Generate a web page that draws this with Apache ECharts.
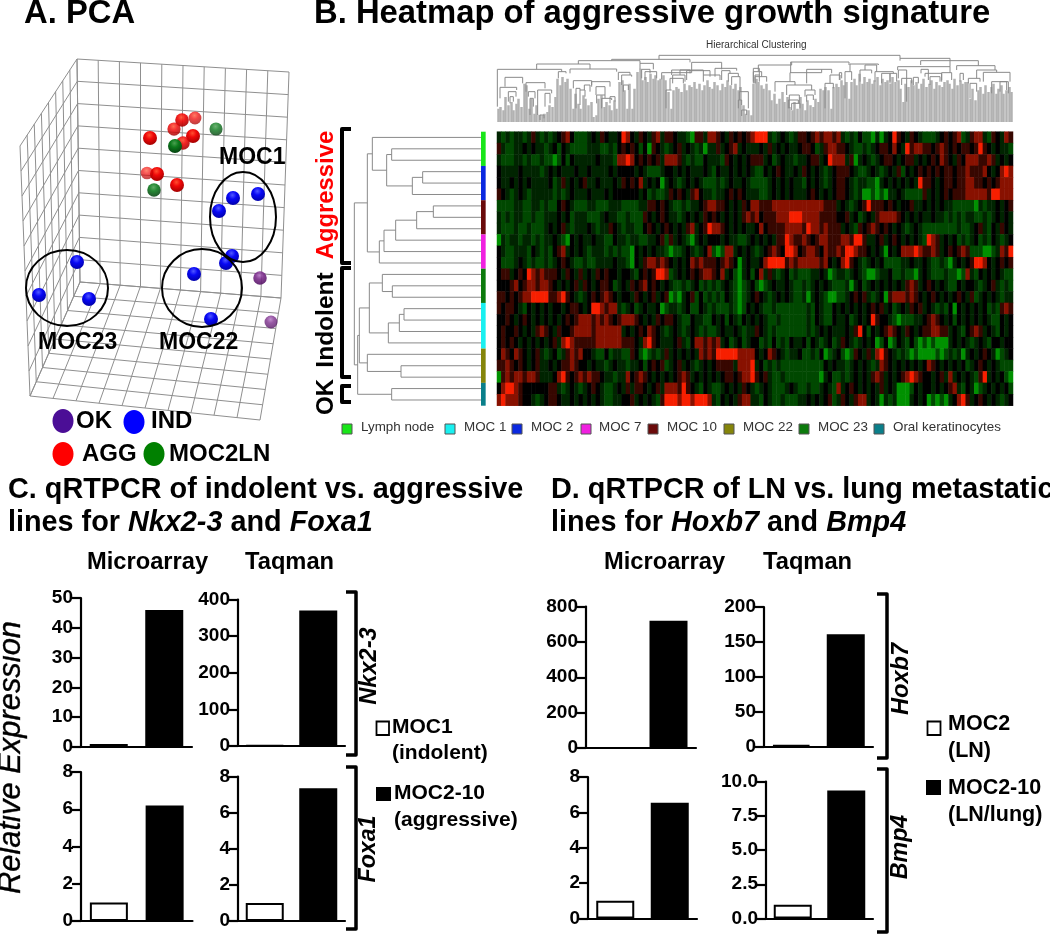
<!DOCTYPE html>
<html><head><meta charset="utf-8">
<style>html,body{margin:0;padding:0;background:#fff}#c{width:1050px;height:934px}</style>
<script src="https://cdn.jsdelivr.net/npm/echarts@6/dist/echarts.min.js"></script></head>
<body><div id="c"></div>
<script>
// ---------- bar values ----------
var microNkx=[1,46], taqNkx=[2,370], microFoxa=[1,6.2], taqFoxa=[1,7.35];
var microHoxb7=[1,720], taqHoxb7=[2,161], microBmp4=[1,6.55], taqBmp4=[1,9.35];
var barCats=['low','high'];
// ---------- PCA scores: [pc1, pc2, depth 0..1] ----------
var pcaAGG=[[182,120,.85],[195,118,.55],[174,129,.7],[150,138,1],[193,136,1],[183,143,.8],[157,174,1],[147,173,.45],[177,185,1]];
var pcaLN=[[216,129,.65],[175,146,1],[154,190,.8]];
var pcaIND=[[233,198,1],[258,194,1],[219,211,1],[232,256,1],[226,263,1],[194,274,1],[211,319,1],[77,262,1],[39,295,1],[89,299,1]];
var pcaOK=[[260,278,.8],[271,322,.6]];
// ---------- heatmap: one string per sample, one letter per gene block ----------
var heatLevels={G:-1.7,g:-.85,d:-.42,'.':0,m:.65,r:1.6,R:2.9};
var heatmapRows=[
"dgdgddgdmd gdgd.mr.gg gd.dm.dd.R r.dm.dmrdm m.ddgGmmdr rm.dm.m.mr RRRdgd.dgd mm.mrmrrmr dgdg.ggGdG d.Rm.dm.dg ggd.m.mrgd mrrdgm.drm",
"mdggdd.d.d dgd.g.dggg gdddggdg.m .m.g.Gm.dg d.md.dgdGd dmd.mrd.dd d.dmd.d.dd .mm.gdmrrm m.dggdgd.m m.r.dRmrrm m.mrm.m.mm .mRm.d.ddg",
"dgggddgdgg dggGg.g.dd ddd.dddgrr Rr.m.m.mdr rrmdgdgg.d ddgm.d.d.m mmd.gd.ddg dd.mmd.Rrr rdmGd.dgd. mm.d.mmd.d .m.rm.dm.r rrmmrmd.d.",
".dddd.dddd gd.d.ddd.d d.dddd.d.. ..d.dgggd. .d.d.ddd.d g.dd.d.d.d gg.d.m.dd. dm.d.dgd.m mm.dggd.dg d.dmg.d.m. m.m.mm.mmr mmmr.d.rRr",
".dd.d.d.dd dd.gdmd.d. mdd.ddd.dm .m.rd.d.Gd .dgd.d.dgg gdgd.dd.dg gggd.d.d.d dg.d.dgd.m m.dgddggGd .d.d.d.dRm m.d.mm.mmr rmm.m.mrrr",
"m.dgd.dgdd dddgdgd.dd d.ddd.d... ...d.gdggd m.m.dmr.dd gdd.m.m.dd dggd.d.d.d dd.m.d.d.m m.dgdGGgGg Gdd.dggggm d.d.m.mmmr rrrrmRRrrr",
"ggggddggdd gdgg.m.dgg gddgggdddg gggddmm.m. dggdgdd.mr rmm.d.dm.r rmmmrrrrrr rrrrrrmmmd .dgd.mRmmm .m.d..mdd. d.d.ddgggg gGdgdd.d.m",
"dgdgddggdg gddd.d.gdd dgggd.ddgg dgggm.d.m. ddgd.d.dm. m.d.d.dmrm r.mmmrrrRR Rrrrrmmmm. .md.gd.dmr rrrm.d.d.d d.ddgdgdgd dggdgd.d.d",
"dgggdggdgg gd.d.mdgdd d.dgddm.dg ddgg.m.d.m .d.dmrd.mR rrm.d.d.dd .r.mmmmrrr rmRrrmrmmm d.dgm.mrm. m.d.dgd.dg gggggggdgg d.mdg.dm.d",
"Gdgddgddgd gdd.dgG.d. dd.ddgg.dd gddggdd.mg md.dgGd.d. ..d.ddggd. d.d.dmmRrm mrm.mrrmmm rrmRRmdd.m d.m.d.d.dg Rrmd.d.gdg d.gdg.dgd.",
".dggdddg.d gdg.mrd.d. dgdddgdgdg gG.d.d.ddg Gggd.dgd.r gGgrrd.d.d gd.mrm.RRr .mrrm.rmmr mRRrmm.d.d G.d.rrrRrm mrmd.m.mrm gggGGgdrmR",
".gggd.dgdg gdgd.m.dgg dggdddd.dd gG.dmrrmrm .d.d.rmrmm m.mrm.Gd.d d.rRRRRmrm rrrrrmr.d. rRm.dgd.d. ggggdd.dd. dggdgGd.d. mRRr.d.m.m",
".mmd.m.Rrm rmmm.dm.dm d.dm.m..d. .dg.m.mRRr gd.d.m.mrr m.rd.gGd.g .rdmdgd.gd gggdd.dGgd dgd.dgGGgd d.ggdggGd. dgggdggGgr dg.d.d.dgg",
"...mr.mrrm rrm.d.d.md m.d.mm.gd. dm.mr.m.d. dggdgd.gdg dgd.dgGgd. gGgd.dd.dg gdgd.d.dgg gdGd.gd.d. d.d.dmrmd. m.d.dgg.d. .dgd.mdgdg",
"mm.m.mrrRR RRmmrRm.dg d.m.mrm.d. .dm.d.md.m GgGd.mg.gd gdg.dgGgd. m.dgd.d.dg gdGd.dgGGg gd.m.mdgd. Gmrrrmrm.d .m.d.d.m.d mgd.d.dgdd",
"m.mm.dg.d. d.d..d.mm. d.RRrmrrdg d.gd.dd.Gg ddgd.gg.dg dgggdgGg.d .dggdggggg ggdg.dgg.d .d.d.d.m.m d.gd.dm.md .dgdg.G.d. d.d.gdgmrm",
"..m.d.m.d. d.d.d.m.mr rrmrmrm.mr rrm.d.dm.m m.dgg.ddgg .d.g.dg.d. d.dggdgggg ggdg.dgg.d d.gd.d.Rm. .dgGgggdd. mrm.d.g.d. d.d.dgg.d.",
".m..m.d.dm rm.dm..mrr rrmrrrrrrd .d.m.rm.dg d.dgd.dgdg gd.dd.dgdd m.dgdggggg ggdgd.d.dd d.dmR.g.d. mrm.dm.d.m mrrmmd.dg. mrmd.dg.d.",
".m.m.d.d.d .d.mdrRrmm mmmrrrrrrm mm.drRm.dd d.mdg.rrmr mrd.gd.gd. .gdg.gdg.d d.g.dgd.gd m.dgd.d.Gg .Gg.dg.gGg GgGGGd.d.d gd.dg..d..",
".rm.rm.d.m dgd.gdmrmr ..dgg.gddg gm.gGgdgdm d.d.d.drmr mRRRRRrrrr .d.rm.dgdd .ggdg.Ggd. gGgm.dmdrR m.dgdgGgGG GGgGgdgdGd .d.m.dGgd.",
"mmrm.m.d.m dd.d.mmrm. .d.ddgd.dd gdd.g.m.mg d.md.dgd.d .mmmmdrrrR d.gdgdgggg gggggg.d.d dgd.d.dgdr m.d.d.d.d. rm.d.d.d.g d.m.d.dggg",
"Gmrmrrmrrm ddd.rRm.mr mrmm.ddgdd r.mrm.d.d. d.mrmd.d.d .d.mm.mrrR m.mdggdggg gggggGd.gg dgd.d.dmrm d.d.mrRrm. .d.mdrd.d. dgmRd.d.gG",
".rRRrm.... ..mmdgd.dg d.m.dggd.d mdmm.d.mdr rrmRm.dg.d ggd.d.dm.d gd.dgggd.d ggdggd.dgr d.m.d.d.dm d.dGGGg.d. .d.d.mrdg. dGgd.d.d.g",
"rRrrrm..dg d.mm.dd.d. d.d.dggdd. .md.d.dgmR RRrRRrRRRr dg.d.dmrrd dg.dggdggg dd.d.d.mgd m.dmrrd.dG dgdGGGd.d. GgGgGd.rRm d.m.d.dgd."];
// ---------- sample groups along the heatmap ----------
var sampleGroups=['Lymph node','MOC 2','MOC 10','MOC 7','MOC 23','MOC 1','MOC 22','Oral keratinocytes'];
var sampleCounts=[3,3,3,3,3,4,3,2];
var legendOrder=['Lymph node','MOC 1','MOC 2','MOC 7','MOC 10','MOC 22','MOC 23','Oral keratinocytes'];
// ---------- sample dendrogram: [height, left, right], integers = sample rows ----------
var sampleTree=[133,[172,[187,0,[230,[245,1,2],[307,[338,3,4],5]]],[208,[222,[257,[320,[370,6,7],8],9],10],11]],
 [143,[148,[178,[217,12,[247,13,14]],[235,[268,[282,15,16],17],18]],[172,19,[273,20,21]]],[245,22,23]]];
// ---------- gene dendrogram: leaf heights, merges [xL,xR,yTop,yL,yR] (left half, right half) ----------
var geneLeafHeights=[40,45,35,75,50,60,35,55,70,45,115,110,40,70,25,50,22,20,25,30,50,45,75,130,110,135,120,130,100,40,85,55,40,80,70,50,60,15,20,
70,80,45,60,50,35,65,40,120,125,95,40,115,40,100,150,160,125,135,120,145,130,140,125,130,140,125,90,40,95,
105,100,90,115,95,110,105,120,100,115,95,110,125,105,100,120,110,95,115,105,125,110,100,115,95,105,50,25,35,20,115,130,120,
110,100,115,95,65,85,55,70,90,60,75,45,35,60,40,75,55,35,65,50,45,70,60,100,95,105,95,40,105,115,105,125,110,120,70,
120,130,110,145,115,135,120,130,115,125,135,110,130,120,125,115,135,120,125,100,60,
115,105,125,110,120,100,115,130,105,115,125,100,120,110,105,120,125,115,100,130,110,125,115,120,120,70,100,65,95,105,85,110,90,105,115,85,100,110,85,95,105,90];
var geneMergesA=[[22,215,88,200,95],[205,228,95,115,100],[45,98,112,140,130],[30,80,142,175,150],[55,78,155,185,170],[60,70,170,190,185],
[108,165,128,155,145],[115,135,155,170,175],[120,130,175,225,200],[143,185,150,225,160],[165,180,160,200,190],[150,162,225,240,235],
[140,300,72,88,87],[240,380,87,100,95],[250,305,122,145,135],[258,270,145,205,150],[270,285,150,195,170],[283,300,135,150,155],
[305,360,125,140,140],[318,345,140,165,165],[320,345,165,190,175],[335,365,175,205,180],[360,375,170,190,185],[385,420,97,120,105],[395,425,105,135,110],[400,415,135,155,150],
[265,450,62,72,70],[450,490,70,88,88],[455,480,88,115,100],[465,500,95,120,115],[365,600,58,62,67],[515,605,98,118,90],
[605,695,67,90,88],[545,640,90,105,105],[570,600,90,105,100],[590,660,92,120,110],[548,585,105,130,125],[540,580,115,150,130],[528,545,150,205,150],
[640,690,105,125,120],[675,740,85,110,92],[695,720,92,120,100],[715,745,100,125,110],[725,750,110,135,155],[748,775,155,180,205],[745,755,180,205,195],[755,770,210,228,225],[790,808,85,130,105],[795,808,105,130,125]];
var geneMergesB=[[-273,450,46,58,55],[25,125,75,95,66],[122,297,66,98,75],[120,215,98,125,88],[170,245,88,130,100],[75,135,125,155,135],[110,185,135,165,150],
[118,148,165,205,190],[115,145,180,205,190],[125,150,190,210,205],[165,195,150,170,165],[170,190,165,185,180],[15,50,110,130,125],[10,35,95,125,110],
[225,250,130,205,145],[240,270,105,130,120],[268,275,98,120,115],[285,305,95,175,120],[300,385,72,95,75],[330,365,90,125,100],[345,380,75,90,95],[375,430,95,125,100],[420,440,100,130,125],[395,420,100,130,125],
[450,600,55,62,80],[512,685,62,75,77],[443,600,80,90,98],[445,470,90,115,185],[455,485,115,135,130],[490,505,112,135,130],[513,535,88,100,120],[525,575,100,110,120],[540,570,110,135,125],[575,605,98,125,120],
[620,735,77,90,90],[680,740,90,115,97],[655,690,115,130,125],[700,780,97,125,125],[725,770,125,160,150],[660,680,130,175,155],[630,640,100,125,120],[750,775,125,155,160]];

var FONT='"Liberation Sans",Arial,sans-serif';
var sideColors={'Lymph node':'#19e619','MOC 1':'#19f0f0','MOC 2':'#0a28e0','MOC 7':'#f020e0','MOC 10':'#6a0a0a','MOC 22':'#85850a','MOC 23':'#0c7a0c','Oral keratinocytes':'#0a7f8a'};

var grids=[],xAxes=[],yAxes=[],series=[];
function hiddenVal(min,max,inv,g){return {type:'value',gridIndex:g,min:min,max:max,inverse:!!inv,show:false,splitLine:{show:false}};}
function addGrid(l,t,w,h){grids.push({left:l,top:t,width:w,height:h,containLabel:false});return grids.length-1;}

// ---- PCA grid
var gPCA=addGrid(0,0,340,440);
xAxes.push(hiddenVal(0,340,false,gPCA));yAxes.push(hiddenVal(0,440,true,gPCA));
function wall(a,b,c,d,nu,nv){var out=[];function mix(p,q,t){return [p[0]+(q[0]-p[0])*t,p[1]+(q[1]-p[1])*t];}
 for(var i=0;i<=nu;i++){var t=i/nu;out.push({coords:[mix(a,b,t),mix(d,c,t)]});}
 for(var j=0;j<=nv;j++){var s=j/nv;out.push({coords:[mix(a,d,s),mix(b,c,s)]});}return out;}
var wire=[].concat(
 wall([77,59],[289,72],[281,298],[80,282],10,10),
 wall([20,146],[77,59],[80,282],[30,396],8,10),
 wall([80,282],[281,298],[260,420],[30,396],10,8));
series.push({type:'lines',coordinateSystem:'cartesian2d',xAxisIndex:gPCA,yAxisIndex:gPCA,silent:true,data:wire,lineStyle:{color:'#8f8f8f',width:1,opacity:1},z:1});
function sphere(mid,lite,dark){return {type:'radial',x:.46,y:.3,r:.72,colorStops:[{offset:0,color:lite},{offset:.4,color:mid},{offset:1,color:dark}]};}
function pca(name,data,mid,lite,dark){series.push({type:'scatter',name:name,xAxisIndex:gPCA,yAxisIndex:gPCA,silent:true,z:3,
 symbolSize:function(v){return 11.5+2.5*v[2];},
 itemStyle:{color:sphere(mid,lite,dark),opacity:1},
 data:data.map(function(v){return {value:v,itemStyle:{opacity:.45+.55*v[2]}};})});}
pca('AGG',pcaAGG,'#f00808','#ff5030','#a00000');
pca('MOC2LN',pcaLN,'#0c7a1c','#4aa050','#064010');
pca('IND',pcaIND,'#0808f5','#5058ff','#0000a8');
pca('OK',pcaOK,'#7a2a8a','#b070c0','#501060');
// cluster rings
var rings=[[243,217,33,45,'MOC1'],[202,288,40,39,'MOC22'],[67,288,41,38,'MOC23']];
series.push({type:'custom',xAxisIndex:gPCA,yAxisIndex:gPCA,silent:true,z:4,data:rings,
 renderItem:function(p,api){var c=api.coord([api.value(0),api.value(1)]);
  return {type:'ellipse',shape:{cx:c[0],cy:c[1],rx:api.value(2),ry:api.value(3)},style:{fill:null,stroke:'#000',lineWidth:2}};}});

// ---- gene dendrogram
var gTop=addGrid(497,52,516,70);
xAxes.push(hiddenVal(0,1548,false,gTop));yAxes.push(hiddenVal(0,210,false,gTop));
var stems=geneLeafHeights.map(function(h,i){return {coords:[[i*7.74+3,0],[i*7.74+3,h]]};});
series.push({type:'lines',coordinateSystem:'cartesian2d',xAxisIndex:gTop,yAxisIndex:gTop,silent:true,data:stems,lineStyle:{color:'#b2b2b2',width:2.5,opacity:1}});
var mergeLines=[];
geneMergesA.forEach(function(m){var o=-21;mergeLines.push({coords:[[m[0]+o,246-m[3]],[m[0]+o,246-m[2]],[m[1]+o,246-m[2]],[m[1]+o,246-m[4]]]});});
geneMergesB.forEach(function(m){var o=759;mergeLines.push({coords:[[m[0]+o,246-m[3]],[m[0]+o,246-m[2]],[m[1]+o,246-m[2]],[m[1]+o,246-m[4]]]});});
series.push({type:'lines',polyline:true,coordinateSystem:'cartesian2d',xAxisIndex:gTop,yAxisIndex:gTop,silent:true,data:mergeLines,lineStyle:{color:'#8a8a8a',width:1,opacity:1}});

// ---- sample dendrogram + side bar
var gLeft=addGrid(354,131.7,132,274);
xAxes.push(hiddenVal(132,528,false,gLeft));yAxes.push(hiddenVal(0,24,true,gLeft));
var treeSegs=[];
function walk(n){ if(typeof n==='number') return {x:513,y:n+.5};
 var a=walk(n[1]),b=walk(n[2]),h=n[0];
 treeSegs.push({coords:[[a.x,a.y],[h,a.y],[h,b.y],[b.x,b.y]]});
 return {x:h,y:(a.y+b.y)/2};}
walk(sampleTree);
series.push({type:'lines',polyline:true,coordinateSystem:'cartesian2d',xAxisIndex:gLeft,yAxisIndex:gLeft,silent:true,data:treeSegs,lineStyle:{color:'#8a8a8a',width:1,opacity:1}});
var sideData=[],acc=0;sampleGroups.forEach(function(g,i){sideData.push([acc,acc+sampleCounts[i],i]);acc+=sampleCounts[i];});
series.push({type:'custom',xAxisIndex:gLeft,yAxisIndex:gLeft,silent:true,data:sideData,
 renderItem:function(p,api){var a=api.coord([513,api.value(0)]),b=api.coord([527,api.value(1)]);
  return {type:'rect',shape:{x:a[0],y:a[1],width:b[0]-a[0],height:b[1]-a[1]},style:{fill:sideColors[sampleGroups[api.value(2)]]}};}});

// ---- heatmap
var gHeat=addGrid(497,131.7,516,274);
var heatData=[],nCols=0;
heatmapRows.forEach(function(s,r){var c=0;s.split(' ').forEach(function(block){
  var b=(block+'..........').slice(0,10);
  b.split('').forEach(function(ch){heatData.push([c++,r,heatLevels[ch]]);});});nCols=c;});
var cols=[];for(var ci=0;ci<nCols;ci++)cols.push(ci);
xAxes.push({type:'category',gridIndex:gHeat,data:cols,show:false,splitLine:{show:false}});
yAxes.push({type:'category',gridIndex:gHeat,data:heatmapRows.map(function(_,i){return i;}),inverse:true,show:false,splitLine:{show:false}});
var heatSeriesIndex=series.length;
series.push({type:'heatmap',xAxisIndex:gHeat,yAxisIndex:gHeat,data:heatData,silent:true,progressive:0,emphasis:{disabled:true}});

// ---- bars
var barLabelFont={color:'#000',fontFamily:FONT,fontWeight:'bold',fontSize:19,margin:8};
function barPanel(l,t,r,b,top,iv,vals,fmt){
 var g=addGrid(l,t,r-l,b-t);
 xAxes.push({type:'category',gridIndex:g,data:barCats,axisLabel:{show:false},axisLine:{lineStyle:{color:'#000',width:2.2}},axisTick:{alignWithLabel:true,length:7,lineStyle:{color:'#000',width:2.2}},splitLine:{show:false}});
 yAxes.push({type:'value',gridIndex:g,min:0,max:top,interval:iv,axisLine:{show:true,lineStyle:{color:'#000',width:2.2}},axisTick:{show:true,length:9,lineStyle:{color:'#000',width:2.2}},axisLabel:Object.assign({formatter:fmt||'{value}'},barLabelFont),splitLine:{show:false}});
 series.push({type:'bar',xAxisIndex:g,yAxisIndex:g,data:vals,barWidth:38,silent:true,z:1,
  itemStyle:{borderColor:'#000',borderWidth:2,color:function(p){return p.dataIndex===0?'#fff':'#000';}}});
}
barPanel(81,598,192,747,50,10,microNkx);
barPanel(238,599.5,345,746,400,100,taqNkx);
barPanel(81,772,192.5,921,8,2,microFoxa);
barPanel(238,776.5,345,921,8,2,taqFoxa);
barPanel(586,606.5,696,748,800,200,microHoxb7);
barPanel(764,607,873,746.5,200,50,taqHoxb7);
barPanel(588,777,697,918.5,8,2,microBmp4);
barPanel(766,781.5,873,918.5,10,2.5,taqBmp4,function(v){return v.toFixed(1);});

// ---- texts, legends, brackets
var g=[];
function txt(t,x,y,size,o){o=o||{};g.push({type:'text',x:x,y:y,rotation:o.rot||0,silent:true,z:10,style:{text:t,fontFamily:FONT,fontSize:size,fontWeight:o.w||'bold',fontStyle:o.i?'italic':'normal',fill:o.c||'#000',align:o.a||'left',verticalAlign:'middle',rich:o.rich,stroke:o.s?'#000':null,lineWidth:o.s||0}});}
function rect(x,y,w,h,fill,stroke,lw){g.push({type:'rect',silent:true,z:10,shape:{x:x,y:y,width:w,height:h},style:{fill:fill,stroke:stroke||null,lineWidth:stroke?(lw||1):0}});}
function dot(x,y,rx,ry,fill){g.push({type:'ellipse',silent:true,z:10,shape:{cx:x,cy:y,rx:rx,ry:ry},style:{fill:fill}});}
function brk(x0,x1,y0,y1,w){g.push({type:'polyline',silent:true,z:10,shape:{points:[[x0,y0],[x1,y0],[x1,y1],[x0,y1]]},style:{stroke:'#000',lineWidth:w,fill:null,lineJoin:'round'}});}
var TF=28.8;
var ital={i:{fontStyle:'italic',fontWeight:'bold',fontFamily:FONT,fontSize:TF,fill:'#000'},b:{fontWeight:'bold',fontFamily:FONT,fontSize:TF,fill:'#000'}};

txt('A. PCA',24,14,32.8);
txt('B. Heatmap of aggressive growth signature',314,14,32.8);
txt('Hierarchical Clustering',706,45,10,{w:'normal',c:'#333'});
txt('MOC1',219,158,23);txt('MOC23',38,343,23);txt('MOC22',159,343,23);
dot(63,421,10.5,12,'#4b0e96');txt('OK',76,421,24);dot(134,422,10.5,12,'#0000ff');txt('IND',151,421,24);
dot(63,454,10.5,12,'#ff0000');txt('AGG',82,454,24);dot(154,454,10.5,12,'#008000');txt('MOC2LN',169,454,24);
txt('Aggressive',326,195,23.8,{rot:Math.PI/2,a:'center',c:'#ff0000'});
txt('Indolent',326,320,24.5,{rot:Math.PI/2,a:'center'});
txt('OK',326,397,24,{rot:Math.PI/2,a:'center'});
brk(351,342,129,263,4);brk(351,342,268,377,4);brk(351,342,386,402,4);
var legX=[[342,361],[445,464],[512,531],[581,599],[648,667],[724,743],[799,818],[874,893]];
legendOrder.forEach(function(n,i){rect(legX[i][0],424,10,10,sideColors[n],'#555');txt(n,legX[i][1],427,13.4,{w:'normal',c:'#333'});});

txt('C. qRTPCR of indolent vs. aggressive',8,490,TF);
txt('{b|lines for }{i|Nkx2-3}{b| and }{i|Foxa1}',8,523,TF,{rich:ital});
txt('Microarray',87,562,23.7);txt('Taqman',245,562,23.7);
txt('D. qRTPCR of LN vs. lung metastatic',551,490,TF);
txt('{b|lines for }{i|Hoxb7}{b| and }{i|Bmp4}',551,523,TF,{rich:ital});
txt('Microarray',604,562,23.7);txt('Taqman',763,562,23.7);
txt('Relative Expression',11,757.5,30.9,{rot:Math.PI/2,a:'center',w:'normal',i:true,s:.35});
txt('Nkx2-3',369,666,23.6,{rot:Math.PI/2,a:'center',i:true});
txt('Foxa1',369,849,23.2,{rot:Math.PI/2,a:'center',i:true});
txt('Hoxb7',901,679,23.6,{rot:Math.PI/2,a:'center',i:true});
txt('Bmp4',901,847,23.2,{rot:Math.PI/2,a:'center',i:true});
brk(346,356,592,755,3.5);brk(346,356,767,929,3.5);brk(877,887,594,758,3.5);brk(877,887,769,932,3.5);
rect(376.5,721.5,12.5,13.5,'#fff','#000',1.8);txt('MOC1',392,727,21);txt('(indolent)',392,753,21);
rect(376,787,15,14,'#000');txt('MOC2-10',394,793,21);txt('(aggressive)',394,820,21);
rect(927.5,721.5,13,13.5,'#fff','#000',1.8);txt('MOC2',948,724,21.5);txt('(LN)',948,751,21.5);
rect(926,780,15,15,'#000');txt('MOC2-10',948,788,21.5);txt('(LN/lung)',948,815,21.5);

var chart=echarts.init(document.getElementById('c'),null,{renderer:'canvas'});
chart.setOption({animation:false,backgroundColor:'#fff',grid:grids,xAxis:xAxes,yAxis:yAxes,series:series,graphic:g,
 visualMap:[{type:'continuous',show:false,seriesIndex:heatSeriesIndex,dimension:2,min:-3,max:3,inRange:{color:['#00ff00','#000000','#ff2000']}}]});
</script></body></html>
